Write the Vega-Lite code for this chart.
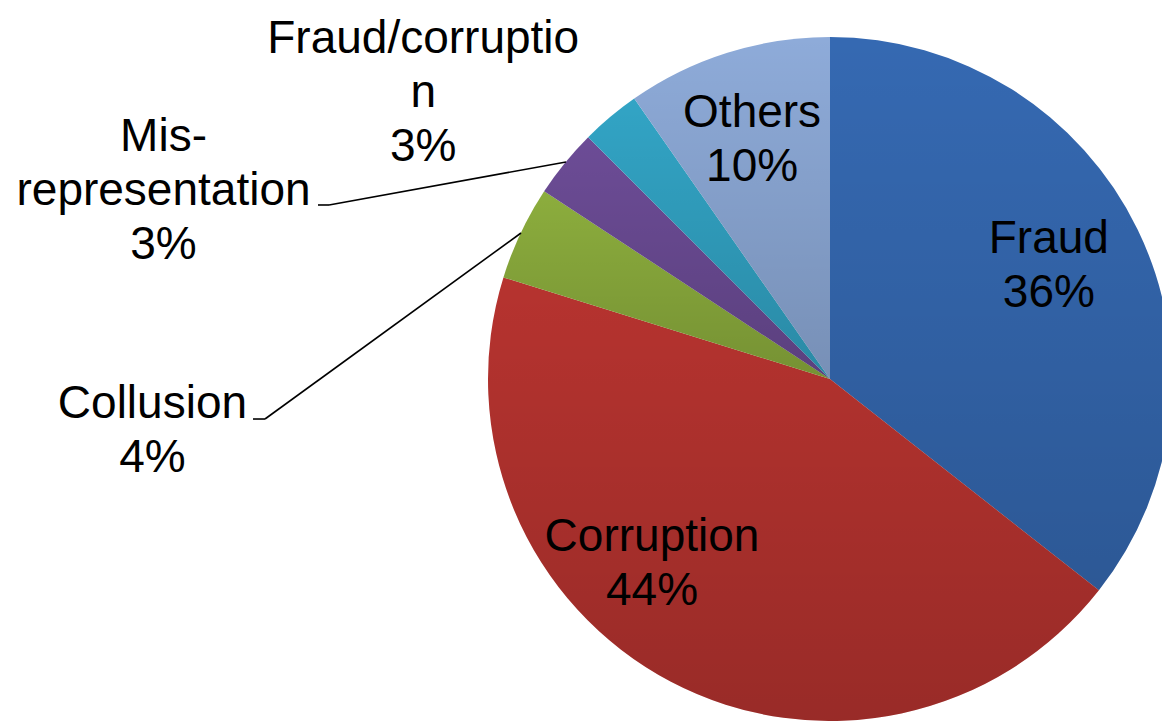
{
  "$schema": "https://vega.github.io/schema/vega-lite/v6.json",
  "width": 1162,
  "height": 721,
  "padding": 0,
  "autosize": {"type": "none"},
  "background": "white",
  "config": {"view": {"stroke": null}, "text": {"font": "Liberation Sans", "fontSize": 46, "lineHeight": 54, "lineBreak": "\n", "align": "center", "baseline": "middle", "color": "black"}},
  "datasets": {
    "slices": [
      {"idx": 1, "category": "Fraud", "label": "Fraud", "value": 35.6},
      {"idx": 2, "category": "Corruption", "label": "Corruption", "value": 44.2},
      {"idx": 3, "category": "Collusion", "label": "Collusion", "value": 4.45},
      {"idx": 4, "category": "Misrepresentation", "label": "Mis-\nrepresentation", "value": 3.25},
      {"idx": 5, "category": "Fraud/corruption", "label": "Fraud/corruptio\nn", "value": 2.8},
      {"idx": 6, "category": "Others", "label": "Others", "value": 9.7}
    ],
    "leaders": [
      {"seg": "Misrepresentation a", "ax": -1.4971, "ay": 0.5088, "bx": -1.4649, "by": 0.5088},
      {"seg": "Misrepresentation b", "ax": -1.4649, "ay": 0.5088, "bx": -0.7719, "by": 0.6345},
      {"seg": "Collusion a", "ax": -1.6871, "ay": -0.117, "bx": -1.652, "by": -0.117},
      {"seg": "Collusion b", "ax": -1.652, "ay": -0.117, "bx": -0.9035, "by": 0.4269}
    ]
  },
  "layer": [
    {
      "data": {"name": "slices"},
      "transform": [
        {"stack": "value", "groupby": [], "sort": [{"field": "idx", "order": "ascending"}], "as": ["v0", "v1"]},
        {"calculate": "(datum.v0 + datum.v1) / 2", "as": "vm"},
        {"calculate": "datum.label + '\\n' + format(datum.value / 100, '.0%')", "as": "txt"}
      ],
      "encoding": {
        "x": {"datum": 0, "type": "quantitative", "scale": {"domain": [-2.4269, 0.97076], "nice": false, "zero": false}, "axis": null},
        "y": {"datum": 0, "type": "quantitative", "scale": {"domain": [-1, 1.10819], "nice": false, "zero": false}, "axis": null}
      },
      "layer": [
        {
          "mark": {"type": "arc", "outerRadius": 342, "strokeWidth": 0},
          "encoding": {
            "theta": {"field": "v0", "type": "quantitative", "scale": {"domain": [0, 100]}},
            "theta2": {"field": "v1"},
            "color": {
              "field": "category",
              "type": "nominal",
              "scale": {
                "domain": ["Fraud", "Corruption", "Collusion", "Misrepresentation", "Fraud/corruption", "Others"],
                "range": ["#3569b2", "#b6332f", "#8cad3d", "#6c4c96", "#32a4c5", "#8eabd9"]
              },
              "legend": null
            }
          }
        },
        {
          "mark": {
            "type": "arc",
            "outerRadius": 342,
            "strokeWidth": 0,
            "fill": {
              "gradient": "linear", "x1": 0, "y1": 0, "x2": 0, "y2": 1,
              "stops": [
                {"offset": 0, "color": "rgba(0,0,0,0)"},
                {"offset": 1, "color": "rgba(0,0,0,0.16)"}
              ]
            }
          },
          "encoding": {
            "theta": {"field": "v0", "type": "quantitative", "scale": {"domain": [0, 100]}},
            "theta2": {"field": "v1"}
          }
        },
        {
          "transform": [{"filter": "datum.category === 'Fraud'"}],
          "mark": {"type": "text", "radius": 260, "thetaOffset": -0.1181},
          "encoding": {"theta": {"field": "vm", "type": "quantitative", "scale": {"domain": [0, 100]}}, "text": {"field": "txt"}}
        },
        {
          "transform": [{"filter": "datum.category === 'Corruption'"}],
          "mark": {"type": "text", "radius": 238, "thetaOffset": 0.3611},
          "encoding": {"theta": {"field": "vm", "type": "quantitative", "scale": {"domain": [0, 100]}}, "text": {"field": "txt"}}
        },
        {
          "transform": [{"filter": "datum.category === 'Collusion'"}],
          "mark": {"type": "text", "radius": 678, "thetaOffset": -0.4783},
          "encoding": {"theta": {"field": "vm", "type": "quantitative", "scale": {"domain": [0, 100]}}, "text": {"field": "txt"}}
        },
        {
          "transform": [{"filter": "datum.category === 'Misrepresentation'"}],
          "mark": {"type": "text", "radius": 709, "thetaOffset": -0.3352},
          "encoding": {"theta": {"field": "vm", "type": "quantitative", "scale": {"domain": [0, 100]}}, "text": {"field": "txt"}}
        },
        {
          "transform": [{"filter": "datum.category === 'Fraud/corruption'"}],
          "mark": {"type": "text", "radius": 530, "thetaOffset": -0.1776},
          "encoding": {"theta": {"field": "vm", "type": "quantitative", "scale": {"domain": [0, 100]}}, "text": {"field": "txt"}}
        },
        {
          "transform": [{"filter": "datum.category === 'Others'"}],
          "mark": {"type": "text", "radius": 277, "thetaOffset": 0.0196},
          "encoding": {"theta": {"field": "vm", "type": "quantitative", "scale": {"domain": [0, 100]}}, "text": {"field": "txt"}}
        }
      ]
    },
    {
      "data": {"name": "leaders"},
      "mark": {"type": "rule", "color": "black", "strokeWidth": 1.6},
      "encoding": {
        "x": {"field": "ax", "type": "quantitative", "scale": {"domain": [-2.4269, 0.97076], "nice": false, "zero": false}, "axis": null},
        "y": {"field": "ay", "type": "quantitative", "scale": {"domain": [-1, 1.10819], "nice": false, "zero": false}, "axis": null},
        "x2": {"field": "bx"},
        "y2": {"field": "by"}
      }
    }
  ]
}
